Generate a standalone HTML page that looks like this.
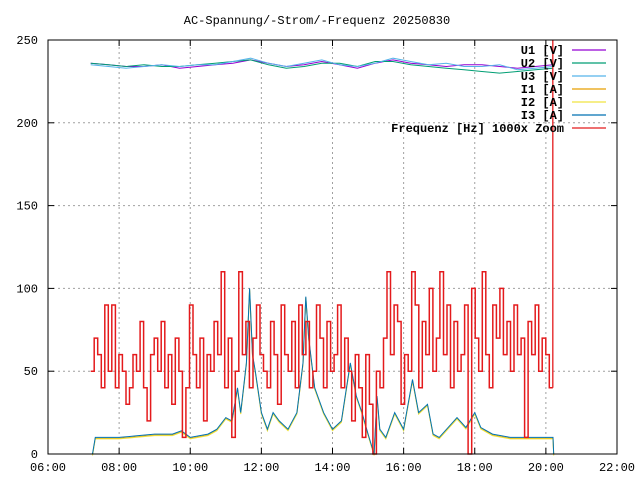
<!DOCTYPE html>
<html><head><meta charset="utf-8"><style>
body{margin:0;background:#fff}
svg{display:block;font-family:"Liberation Mono",monospace;font-size:12px}
</style></head><body>
<svg id="chart" width="640" height="480" viewBox="0 0 640 480">
<text x="317" y="24" text-anchor="middle">AC-Spannung/-Strom/-Frequenz 20250830</text>
<g id="grid"></g>
<g id="series"></g>
<g id="axes"></g>
<g id="legend"></g>
</svg>
<script>
const xTicks=[6,8,10,12,14,16,18,20,22];
const xTickLabels=["06:00","08:00","10:00","12:00","14:00","16:00","18:00","20:00","22:00"];
const yTicks=[0,50,100,150,200,250];
const freqStart=7.2;
const freqStep=0.0992;
const freqVals=[50,70,60,40,90,50,90,40,60,50,
30,40,60,50,80,40,20,60,70,50,
80,40,60,30,70,50,10,40,90,60,
40,70,20,60,50,80,60,110,40,70,
10,50,110,60,80,40,70,90,60,50,
40,80,60,30,90,60,50,80,40,90,
60,80,40,50,90,70,40,80,50,60,
90,40,70,50,20,60,40,10,60,30,
0,50,40,70,110,60,90,80,30,60,
50,110,90,40,80,60,100,50,70,110,
60,90,40,80,50,60,90,0,100,70,
50,110,60,40,90,70,100,60,80,50,
90,60,70,10,80,60,90,50,70,60,40];
const curTimes=[7.25,7.33,8,8.5,9,9.5,9.75,10,10.5,10.75,11,11.17,11.33,11.42,11.58,11.67,11.75,11.83,12,12.17,12.33,12.5,12.75,13,13.17,13.25,13.33,13.5,13.75,14,14.25,14.5,14.67,14.83,15,15.17,15.25,15.33,15.5,15.75,16,16.25,16.42,16.67,16.83,17,17.5,17.75,18,18.17,18.5,19,19.5,20.2,20.22];
const curVals=[0,10,10,11,12,12,14,10,12,15,22,20,40,25,55,100,60,50,25,15,25,20,15,25,55,95,70,40,25,15,20,55,35,25,12,0,35,15,10,25,15,45,25,30,12,10,22,16,25,16,12,10,10,10,0];
const voltTimes=[7.2,7.7,8.2,8.7,9.2,9.7,10.2,10.7,11.2,11.7,12.2,12.7,13.2,13.7,14.2,14.7,15.2,15.7,16.2,16.7,17.2,17.7,18.2,18.7,19.2,19.7,20.2];
const u1Vals=[236,235,234,234,235,233,234,235,236,238,236,234,235,237,235,233,236,238,236,235,234,235,235,234,233,234,235];
const u2Vals=[236,235,234,235,234,234,235,236,237,238,235,233,234,236,236,234,237,237,235,234,233,232,231,230,231,232,233];
const u3Vals=[235,234,233,234,235,234,235,235,237,239,236,234,236,238,235,234,236,239,237,235,236,234,234,235,232,233,234];

const X0=48,X1=617,Y0=454,Y1=40;
const sx=h=>X0+(h-6)/16*(X1-X0);
const sy=v=>Y0-v/250*(Y0-Y1);
const NS="http://www.w3.org/2000/svg";
function mk(tag,attrs,parent){const e=document.createElementNS(NS,tag);for(const k in attrs)e.setAttribute(k,attrs[k]);parent.appendChild(e);return e;}
const grid=document.getElementById('grid'),axes=document.getElementById('axes'),ser=document.getElementById('series'),leg=document.getElementById('legend');
xTicks.forEach((t,i)=>{
  if(i>0&&i<xTicks.length-1){const g=mk('line',{x1:sx(t),x2:sx(t),y1:Y0,y2:Y1,stroke:'#a0a0a0','stroke-dasharray':'2,3'},grid);
  }
  const tk=mk('line',{x1:sx(t),x2:sx(t),y1:Y0,y2:Y0-6,stroke:'#000'},axes);
  
  const tk2=mk('line',{x1:sx(t),x2:sx(t),y1:Y1,y2:Y1+6,stroke:'#000'},axes);
  
  const l=mk('text',{x:sx(t),y:471,'text-anchor':'middle'},axes);l.textContent=xTickLabels[i];
  
});
yTicks.forEach((v,i)=>{
  if(i>0&&i<yTicks.length-1){const g=mk('line',{x1:X0,x2:X1,y1:sy(v),y2:sy(v),stroke:'#a0a0a0','stroke-dasharray':'2,3'},grid);
  }
  const tk=mk('line',{x1:X0,x2:X0+6,y1:sy(v),y2:sy(v),stroke:'#000'},axes);
  
  const tk2=mk('line',{x1:X1,x2:X1-6,y1:sy(v),y2:sy(v),stroke:'#000'},axes);
  
  const l=mk('text',{x:38,y:sy(v)+4,'text-anchor':'end'},axes);l.textContent=String(v);
  
});
const border=mk('rect',{x:X0,y:Y1,width:X1-X0,height:Y0-Y1,fill:'none',stroke:'#000'},axes);


function poly(ts,vs,color,name,dx,dy){
  const p=ts.map((t,i)=>(sx(t)+dx).toFixed(1)+','+(sy(vs[i])+dy).toFixed(1)).join(' ');
  const e=mk('polyline',{points:p,fill:'none',stroke:color,'stroke-width':1},ser);
  
}
poly(voltTimes,u1Vals,'#9400d3','u1-line',0,0);
poly(voltTimes,u2Vals,'#009e73','u2-line',0,0);
poly(voltTimes,u3Vals,'#56b4e9','u3-line',0,0);
poly(curTimes,curVals,'#e69f00','i1-line',0,1);
poly(curTimes,curVals,'#f0e442','i2-line',0,1.5);
poly(curTimes,curVals,'#0072b2','i3-line',0,0);
let fp=[];
freqVals.forEach((v,i)=>{const t=freqStart+i*freqStep;
  fp.push(sx(t).toFixed(1)+','+sy(v).toFixed(1));
  fp.push(sx(t+freqStep).toFixed(1)+','+sy(v).toFixed(1));});
const fl=mk('polyline',{points:fp.join(' '),fill:'none',stroke:'#e41a1c','stroke-width':1.5},ser);

const lastT=freqStart+freqVals.length*freqStep;
const fv=mk('line',{x1:sx(lastT),x2:sx(lastT),y1:sy(freqVals[freqVals.length-1]),y2:Y1,stroke:'#e41a1c','stroke-width':1.3},ser);


const legItems=[["U1 [V]",'#9400d3'],["U2 [V]",'#009e73'],["U3 [V]",'#56b4e9'],["I1 [A]",'#e69f00'],["I2 [A]",'#f0e442'],["I3 [A]",'#0072b2'],["Frequenz [Hz] 1000x Zoom",'#e41a1c']];
legItems.forEach((it,i)=>{const y=50+i*13;
  const ln=mk('line',{x1:572,x2:606,y1:y,y2:y,stroke:it[1],'stroke-width':1.3},leg);
  
  const tx=mk('text',{x:564,y:y+4,'text-anchor':'end','font-weight':'bold'},leg);tx.textContent=it[0];
  
});
</script>
</body></html>
